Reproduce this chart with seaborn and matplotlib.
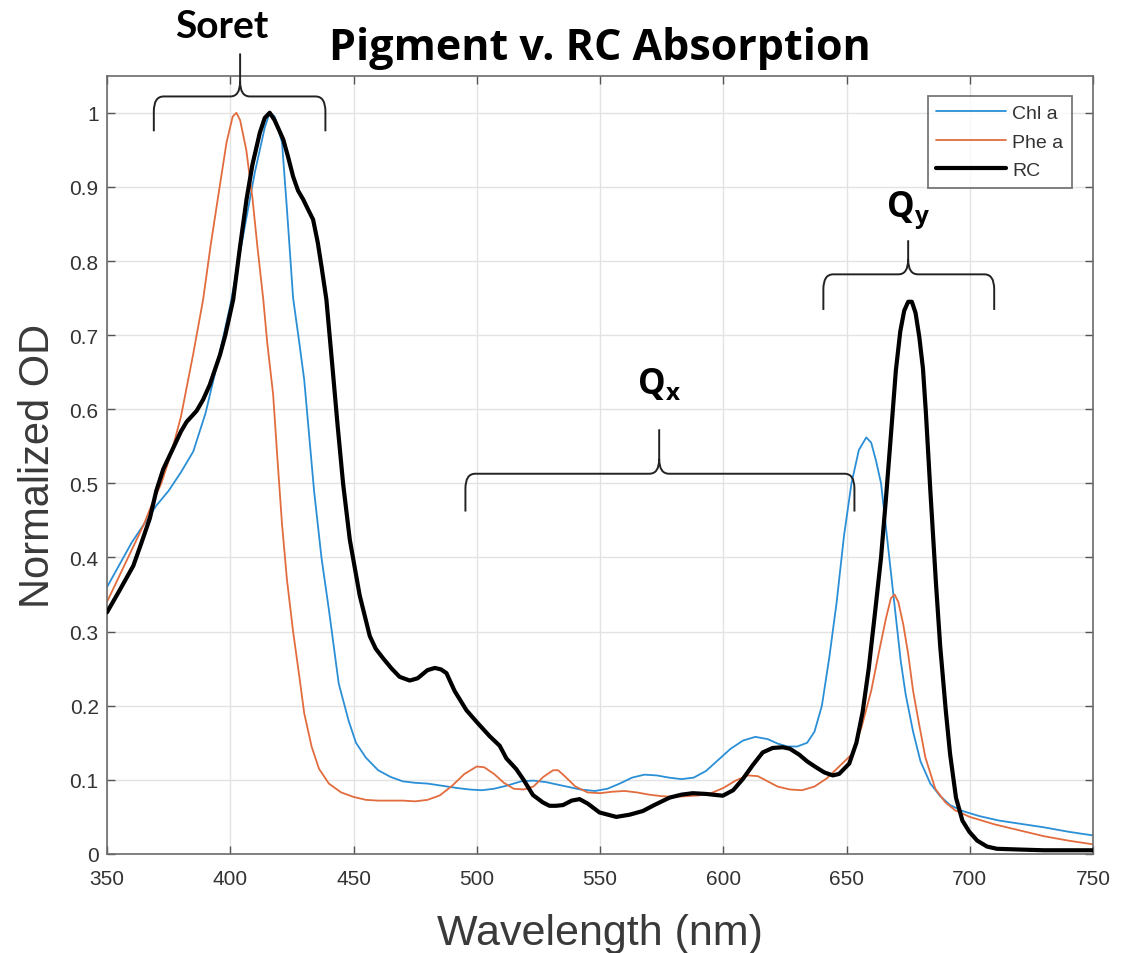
import numpy as np
import pandas as pd
import matplotlib
matplotlib.use("Agg")
import matplotlib.pyplot as plt
from matplotlib.path import Path
from matplotlib.patches import PathPatch
import seaborn as sns

# ---------------- data ----------------
wl_chl = [350, 355, 360, 365, 370, 375, 380, 385, 390, 395, 400, 405, 410, 414, 416, 418, 421, 423, 425.5,
          428, 430, 434, 437, 440, 444, 448, 451, 455, 460, 465, 470, 475, 480, 486, 492, 497, 502, 507, 512,
          518, 523, 528, 535, 542, 548, 553, 558, 563, 568, 573, 578, 583, 588, 593, 598, 603, 608, 613, 618,
          622, 626, 630, 634, 637, 640, 643, 646, 649, 652, 655, 658, 660, 662, 664, 666, 668, 670, 672, 674,
          677, 680, 684, 688, 692, 697, 704, 712, 720, 730, 740, 750]
od_chl = [0.36, 0.39, 0.42, 0.445, 0.47, 0.49, 0.515, 0.543, 0.595, 0.665, 0.74, 0.83, 0.92, 0.98, 1.0, 0.995,
          0.96, 0.87, 0.75, 0.69, 0.64, 0.49, 0.40, 0.33, 0.23, 0.18, 0.15, 0.13, 0.113, 0.104, 0.098, 0.096,
          0.095, 0.092, 0.089, 0.087, 0.086, 0.088, 0.092, 0.098, 0.099, 0.097, 0.092, 0.087, 0.085, 0.088,
          0.095, 0.103, 0.107, 0.106, 0.103, 0.101, 0.103, 0.112, 0.127, 0.142, 0.153, 0.158, 0.155, 0.149,
          0.145, 0.145, 0.150, 0.165, 0.20, 0.265, 0.34, 0.43, 0.50, 0.545, 0.562, 0.555, 0.53, 0.50, 0.44,
          0.38, 0.32, 0.26, 0.215, 0.165, 0.125, 0.095, 0.078, 0.066, 0.058, 0.051, 0.045, 0.041, 0.036,
          0.030, 0.025]

wl_phe = [350, 355, 360, 365, 368, 372, 376, 380, 385, 389, 392, 395, 398.5, 401, 402.5, 404, 406.5, 409, 411,
          413.4, 415, 417.4, 419, 421, 423, 425.5, 428, 430, 433, 436, 440, 445, 450, 455, 460, 465, 470, 475,
          480, 485, 490, 495, 500, 503, 507, 511, 515, 519, 523, 527, 531, 533, 536, 540, 545, 550, 555, 560,
          565, 570, 575, 580, 585, 590, 595, 600, 605, 610, 614, 618, 622, 627, 632, 637, 642, 647, 652, 656,
          660, 663, 666, 668, 669.5, 671, 673, 675, 677, 679.5, 682, 686, 690, 694, 700, 710, 720, 730, 740, 750]
od_phe = [0.34, 0.375, 0.41, 0.445, 0.47, 0.50, 0.54, 0.59, 0.675, 0.748, 0.82, 0.885, 0.96, 0.995, 1.0, 0.99,
          0.95, 0.885, 0.82, 0.748, 0.69, 0.62, 0.54, 0.445, 0.37, 0.30, 0.24, 0.19, 0.145, 0.115, 0.095,
          0.083, 0.077, 0.073, 0.072, 0.072, 0.072, 0.071, 0.073, 0.079, 0.092, 0.108, 0.118, 0.117, 0.108,
          0.096, 0.088, 0.087, 0.091, 0.104, 0.113, 0.113, 0.104, 0.091, 0.083, 0.082, 0.084, 0.085, 0.083,
          0.080, 0.078, 0.077, 0.078, 0.079, 0.082, 0.089, 0.099, 0.106, 0.105, 0.098, 0.091, 0.087, 0.086,
          0.091, 0.102, 0.118, 0.134, 0.17, 0.22, 0.27, 0.318, 0.345, 0.35, 0.34, 0.31, 0.27, 0.22, 0.174,
          0.13, 0.088, 0.070, 0.059, 0.050, 0.040, 0.032, 0.024, 0.018, 0.013]

wl_rc = [350, 355, 360.7, 364, 367.4, 370, 372.8, 376.9, 380, 382.3, 386.4, 389, 391.7, 395.8, 398, 401.2, 404,
         406.6, 409, 412, 414, 416, 418, 421.5, 423.5, 425.5, 427.5, 429.6, 431.5, 433.6, 435.5, 437, 439,
         441.7, 443.5, 445.8, 448.5, 452.5, 456.6, 459, 462, 465.5, 468.7, 472.8, 476, 480, 483, 485.5, 487.7,
         491, 495.8, 500, 505.2, 509.3, 512, 516, 519, 522.8, 526.8, 529.5, 532.2, 535, 538.5, 541.7, 545,
         549.8, 556.6, 562, 567.4, 572, 578.2, 583, 587.6, 593, 599.8, 604, 607.9, 612, 616, 620, 624.1, 627,
         630.8, 634, 637.6, 641, 644.4, 647, 651.1, 654, 656.5, 659, 661.9, 664, 666, 668, 670, 671.8, 673.4,
         675, 676.5, 678, 679.5, 681, 682.2, 684, 686.3, 688, 690.3, 692, 694.4, 697, 699.8, 703, 707, 711,
         720, 730, 740, 750]
od_rc = [0.326, 0.355, 0.389, 0.42, 0.453, 0.49, 0.519, 0.548, 0.57, 0.583, 0.598, 0.613, 0.633, 0.673, 0.70,
         0.748, 0.82, 0.883, 0.93, 0.973, 0.993, 1.0, 0.99, 0.964, 0.94, 0.914, 0.895, 0.883, 0.87, 0.856,
         0.825, 0.793, 0.748, 0.648, 0.58, 0.499, 0.424, 0.349, 0.294, 0.277, 0.264, 0.25, 0.239, 0.234,
         0.237, 0.248, 0.251, 0.249, 0.244, 0.22, 0.194, 0.178, 0.159, 0.146, 0.129, 0.1146, 0.1, 0.0795,
         0.0696, 0.065, 0.065, 0.066, 0.072, 0.074, 0.068, 0.056, 0.050, 0.053, 0.058, 0.066, 0.076, 0.080,
         0.082, 0.081, 0.0786, 0.086, 0.101, 0.12, 0.137, 0.143, 0.144, 0.142, 0.134, 0.125, 0.117, 0.110,
         0.106, 0.108, 0.122, 0.15, 0.191, 0.25, 0.336, 0.40, 0.48, 0.565, 0.652, 0.705, 0.733, 0.745, 0.745,
         0.73, 0.698, 0.655, 0.595, 0.49, 0.364, 0.28, 0.192, 0.135, 0.076, 0.045, 0.030, 0.018, 0.010, 0.007,
         0.006, 0.005, 0.005, 0.005]

series_names = ["Chl a", "Phe a", "RC"]
x_ticks = [350, 400, 450, 500, 550, 600, 650, 700, 750]
y_ticks = [0, 0.1, 0.2, 0.3, 0.4, 0.5, 0.6, 0.7, 0.8, 0.9, 1]
y_tick_labels = ["0", "0.1", "0.2", "0.3", "0.4", "0.5", "0.6", "0.7", "0.8", "0.9", "1"]

# annotation braces: (label, left, right, center, end_bottom, horizontal, spike_top, text_x, text_y)
braces = [
    (r"Soret", 369, 438.6, 404, 0.975, 1.022, 1.080, 396.5, 1.118),
    (r"$\mathbf{Q_x}$", 495.4, 653.2, 574, 0.462, 0.513, 0.573, 574, 0.635),
    (r"$\mathbf{Q_y}$", 640.6, 709.9, 675, 0.734, 0.782, 0.828, 675, 0.870),
]

# ---------------- style ----------------
sns.set_theme(style="ticks")
plt.rcParams["font.family"] = ["Liberation Sans", "DejaVu Sans"]
plt.rcParams["mathtext.fontset"] = "custom"
plt.rcParams["mathtext.bf"] = "Open Sans:bold"
plt.rcParams["mathtext.rm"] = "Open Sans"

fig = plt.figure(figsize=(11.25, 9.54), dpi=100)
ax = fig.add_axes([0.0951, 0.1038, 0.8765, 0.8158])

df_chl = pd.DataFrame({"wl": wl_chl, "od": od_chl})
df_phe = pd.DataFrame({"wl": wl_phe, "od": od_phe})
df_rc = pd.DataFrame({"wl": wl_rc, "od": od_rc})

colors = {"Chl a": "#2a8fd6", "Phe a": "#e26c3e", "RC": "#000000"}
widths = {"Chl a": 1.3, "Phe a": 1.3, "RC": 3.0}

for name, d in zip(series_names, [df_chl, df_phe, df_rc]):
    sns.lineplot(data=d, x="wl", y="od", ax=ax, color=colors[name], linewidth=widths[name],
                 label=name, estimator=None, sort=False, zorder=3 if name == "RC" else 2)

ax.set_xlim(350, 750)
ax.set_ylim(0, 1.05)
ax.set_xticks(x_ticks)
ax.set_xticklabels([str(t) for t in x_ticks])
ax.set_yticks(y_ticks)
ax.set_yticklabels(y_tick_labels)
ax.grid(True, color="#e3e3e3", linewidth=1.0, zorder=0)
ax.set_axisbelow(True)
ax.tick_params(axis="both", direction="in", length=6, width=1, colors="#555555",
               labelcolor="#333333", labelsize=15, top=True, right=True)
ax.tick_params(axis="x", pad=11)
ax.tick_params(axis="y", pad=6)
for sp in ax.spines.values():
    sp.set_color("#6b6b6b")
    sp.set_linewidth(1.2)

ax.set_xlabel("Wavelength (nm)", fontsize=31, color="#3a3a3a", labelpad=18)
ax.set_ylabel("Normalized OD", fontsize=30, color="#3a3a3a", labelpad=8)
ax.set_title("Pigment v. RC Absorption", fontsize=31, fontweight="bold",
             fontfamily="Open Sans", color="black", pad=12)

leg = ax.legend(loc="upper right", fontsize=14, frameon=True, fancybox=False,
                edgecolor="#555555", handlelength=3.6, handletextpad=0.3, borderpad=0.45,
                labelspacing=0.55, borderaxespad=0.0, bbox_to_anchor=(0.9787, 0.974))
leg.get_frame().set_linewidth(1.3)
for t in leg.get_texts():
    t.set_color("#333333")


def draw_brace(ax, x0, x1, xc, yb, yh, ys, rx=4.0, ry=0.02):
    verts = [(x0, yb), (x0, yh - ry), (x0, yh), (x0 + rx, yh),
             (xc - rx, yh), (xc, yh), (xc, yh + ry), (xc, ys),
             (xc, yh + ry), (xc, yh), (xc + rx, yh),
             (x1 - rx, yh), (x1, yh), (x1, yh - ry), (x1, yb)]
    codes = [Path.MOVETO, Path.LINETO, Path.CURVE3, Path.CURVE3,
             Path.LINETO, Path.CURVE3, Path.CURVE3, Path.LINETO,
             Path.MOVETO, Path.CURVE3, Path.CURVE3,
             Path.LINETO, Path.CURVE3, Path.CURVE3, Path.LINETO]
    patch = PathPatch(Path(verts, codes), facecolor="none", edgecolor="#222222",
                      linewidth=1.4, clip_on=False, zorder=5)
    ax.add_patch(patch)


for label, x0, x1, xc, yb, yh, ys, tx, ty in braces:
    draw_brace(ax, x0, x1, xc, yb, yh, ys)
    if label == "Soret":
        ax.text(tx, ty, label, fontsize=28, fontweight="bold", fontfamily="Lato",
                color="black", ha="center", va="center", clip_on=False)
    else:
        ax.text(tx, ty, label, fontsize=25, color="black", ha="center", va="center", clip_on=False)

fig.savefig("out.png", dpi=100, facecolor="white")
